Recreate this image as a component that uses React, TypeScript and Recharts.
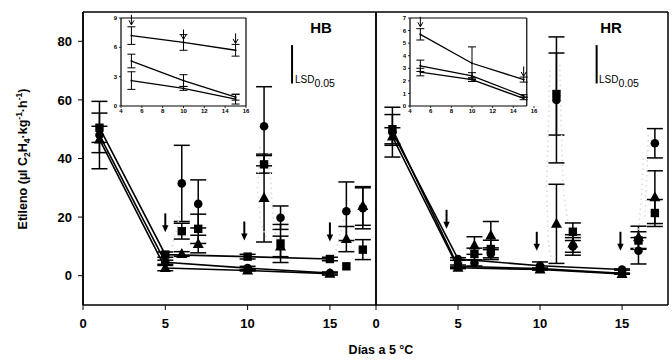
import React from 'react';
import { ComposedChart, Scatter, XAxis, YAxis, ErrorBar, ReferenceLine } from 'recharts';

const FONT = '"Liberation Sans", Arial, sans-serif';

// ---- categories / x values ----
const lineDays = [1, 5, 10, 15];
const postDays = [6, 7, 11, 12, 16, 17];
const insetDays = [5, 10, 15];
const mainXTicks = [0, 5, 10, 15];
const mainYTicks = [0, 20, 40, 60, 80];
const insetXTicks = [4, 6, 8, 10, 12, 14, 16];
const hbInsetYTicks = [0, 3, 6, 9];
const hrInsetYTicks = [0, 1, 2, 3, 4, 5, 6, 7];

// ---- HB panel ----
const hbSquareLine = [50.5, 7.2, 6.5, 5.7];
const hbSquareLineErr = [5, 0.9, 0.8, 0.6];
const hbCircleLine = [48, 4.6, 2.6, 0.9];
const hbCircleLineErr = [11.5, 0.7, 0.6, 0.3];
const hbTriangleLine = [46.5, 2.6, 1.8, 0.7];
const hbTriangleLineErr = [4.5, 0.9, 0.2, 0.5];

const hbCirclePost = [31.5, 24.5, 51, 19.8, 22, 23];
const hbCirclePostErr = [13, 8.2, 13.5, 4, 10, 7];
const hbSquarePost = [15.2, 16, 38, 11, 3.2, 8.9];
const hbSquarePostErr = [2.7, 5, 3, 6.5, 0, 3.4];
const hbTrianglePost = [7.4, 10.8, 26.5, 10, 12.5, 23.8];
const hbTrianglePostErr = [0.8, 3, 15, 3.5, 4.3, 6.6];

const hbArrowX = [5, 9.8, 15];
const hbArrowTip = [14.8, 12, 11.7];
const hbInsetArrowX = [5, 10, 15];
const hbInsetArrowTip = [8.3, 6.8, 6.4];
const hbLsd = 13.1;
const hbLsdX = 12.7;
const hbLsdTop = 78.7;

const hbShadowA = [[10.75, 44], [10.6, 30], [10.8, 18], [11.2, 12]];
const hbShadowB = [[11.3, 42], [11.45, 28], [11.6, 16], [12, 9]];
const hbShadowC = [[5.4, 10], [5.7, 16], [5.9, 22]];
const hbShadowD = [[15.3, 7], [15.6, 14], [15.9, 20]];

// ---- HR panel ----
const hrCircleLine = [49, 5.7, 3.4, 2.1];
const hrCircleLineErr = [8.5, 0.45, 1.3, 0.2];
const hrSquareLine = [50, 3.2, 2.4, 0.8];
const hrSquareLineErr = [5, 0.45, 0.25, 0.1];
const hrTriangleLine = [47.5, 2.7, 2.1, 0.6];
const hrTriangleLineErr = [3, 0.3, 0.15, 0.1];

const hrCirclePost = [4.3, 7.5, 60, 10, 8.5, 45.2];
const hrCirclePostErr = [1, 2, 21.5, 3, 4.5, 5];
const hrSquarePost = [7.4, 9.1, 62, 15, 12, 21.4];
const hrSquarePostErr = [2, 3, 14, 3, 3, 4.6];
const hrTrianglePost = [10.3, 13.7, 17.7, 11, 13.1, 26.8];
const hrTrianglePostErr = [3, 4.8, 13.5, 3, 3.8, 9];

const hrArrowX = [4.3, 9.8, 14.9];
const hrArrowTip = [16, 8.5, 8.5];
const hrInsetArrowX = [5, 15];
const hrInsetArrowTip = [6.3, 2.35];
const hrLsd = 13.1;
const hrLsdX = 13.45;
const hrLsdTop = 78.7;

const hrShadowA = [[10.6, 70], [10.5, 50], [10.4, 30], [10.5, 12], [10.7, 5]];
const hrShadowB = [[11.2, 72], [11.3, 50], [11.4, 30], [11.7, 18]];
const hrShadowC = [[16.3, 40], [16.2, 28], [16.0, 15], [15.6, 6]];
const hrShadowD = [[16.6, 48], [16.5, 33], [16.4, 20]];

// ---- helpers ----
const pts = (xs: number[], ys: number[], es?: number[]) =>
  xs.map((x, i) => ({ x, y: ys[i], e: es ? es[i] : 0 }));
const pairs = (p: number[][]) => p.map(([x, y]) => ({ x, y }));

const CircleShape = (p: any) => <circle cx={p.cx} cy={p.cy} r={4.3} fill="#000" />;
const SquareShape = (p: any) => <rect x={p.cx - 4.2} y={p.cy - 4.2} width={8.4} height={8.4} fill="#000" />;
const TriangleShape = (p: any) => (
  <path d={`M${p.cx},${p.cy - 6} L${p.cx + 5.5},${p.cy + 4} L${p.cx - 5.5},${p.cy + 4} Z`} fill="#000" />
);
const NoShape = () => <g />;
const TinyShape = (p: any) => <circle cx={p.cx} cy={p.cy} r={1} fill="#000" />;
const ArrowShape = (p: any) => (
  <g>
    <line x1={p.cx} y1={p.cy - 19} x2={p.cx} y2={p.cy - 6} stroke="#000" strokeWidth={2} />
    <path d={`M${p.cx - 3.2},${p.cy - 7} L${p.cx + 3.2},${p.cy - 7} L${p.cx},${p.cy} Z`} fill="#000" />
  </g>
);
const OpenArrowShape = (p: any) => (
  <g fill="none" stroke="#000" strokeWidth={1}>
    <line x1={p.cx} y1={p.cy - 10} x2={p.cx} y2={p.cy} />
    <path d={`M${p.cx - 2.5},${p.cy - 4.5} L${p.cx},${p.cy} L${p.cx + 2.5},${p.cy - 4.5}`} />
  </g>
);

const tickStyle = { fontSize: 13, fontWeight: 'bold', fill: '#000', fontFamily: FONT };
const insetTick = { fontSize: 6, fontWeight: 'bold', fill: '#000', fontFamily: FONT };
const shadowLine = { stroke: '#dadada', strokeWidth: 1.5, strokeDasharray: '1.5 3.5' };
const mainLine = { stroke: '#000', strokeWidth: 1.6 };

type PanelProps = {
  width: number;
  marginLeft: number;
  showY: boolean;
  lines: { ys: number[]; es: number[]; shape: any }[];
  posts: { ys: number[]; es: number[]; shape: any }[];
  arrowX: number[];
  arrowTip: number[];
  shadows: number[][][];
  lsd: number;
  lsdX: number;
  lsdTop: number;
};

const XMAX = 17.8;

function Panel(props: PanelProps) {
  const { width, marginLeft, showY } = props;
  return (
    <ComposedChart
      width={width}
      height={360}
      margin={{ top: 12, right: 4, bottom: 25, left: marginLeft }}
    >
      <XAxis
        type="number"
        dataKey="x"
        domain={[0, XMAX]}
        ticks={mainXTicks}
        tick={tickStyle}
        tickSize={5}
        tickMargin={9}
        height={30}
        axisLine={{ stroke: '#000', strokeWidth: 1.5 }}
        tickLine={{ stroke: '#000', strokeWidth: 1 }}
        interval={0}
      />
      <YAxis
        type="number"
        dataKey="y"
        domain={[-10, 90]}
        ticks={mainYTicks}
        tick={tickStyle}
        tickSize={5}
        tickMargin={6}
        width={showY ? 83 : 0}
        hide={!showY}
        axisLine={{ stroke: '#000', strokeWidth: 1.5 }}
        tickLine={{ stroke: '#000', strokeWidth: 1 }}
        interval={0}
      />
      <ReferenceLine y={90} stroke="#000" strokeWidth={1.5} />
      <ReferenceLine x={XMAX} stroke="#000" strokeWidth={1.5} />
      <ReferenceLine x={0} stroke="#000" strokeWidth={1.5} />
      <ReferenceLine
        segment={[
          { x: props.lsdX, y: props.lsdTop },
          { x: props.lsdX, y: props.lsdTop - props.lsd },
        ]}
        stroke="#000"
        strokeWidth={2}
      />
      {props.shadows.map((s, i) => (
        <Scatter
          key={'sh' + i}
          data={pairs(s)}
          shape={NoShape}
          line={shadowLine}
          lineType="joint"
          isAnimationActive={false}
        />
      ))}
      {props.lines.map((l, i) => (
        <Scatter
          key={'ln' + i}
          data={pts(lineDays, l.ys, l.es)}
          shape={l.shape}
          line={mainLine}
          lineType="joint"
          isAnimationActive={false}
        >
          <ErrorBar dataKey="e" direction="y" width={8} stroke="#000" strokeWidth={1.5} isAnimationActive={false} />
        </Scatter>
      ))}
      {props.posts.map((l, i) => (
        <Scatter
          key={'po' + i}
          data={pts(postDays, l.ys, l.es)}
          shape={l.shape}
          isAnimationActive={false}
        >
          <ErrorBar dataKey="e" direction="y" width={8} stroke="#000" strokeWidth={1.5} isAnimationActive={false} />
        </Scatter>
      ))}
      <Scatter data={pts(props.arrowX, props.arrowTip)} shape={ArrowShape} isAnimationActive={false} />
    </ComposedChart>
  );
}

type InsetProps = {
  yMax: number;
  yTicks: number[];
  boxRight: number;
  lines: { ys: number[]; es: number[] }[];
  arrowX: number[];
  arrowTip: number[];
  marginRight: number;
};

function Inset(p: InsetProps) {
  return (
    <ComposedChart width={160} height={125} margin={{ top: 18, right: p.marginRight, bottom: 7, left: 0 }}>
      <XAxis
        type="number"
        dataKey="x"
        domain={[4, 16]}
        ticks={insetXTicks}
        tick={insetTick}
        tickSize={2}
        tickMargin={1}
        height={12}
        axisLine={false}
        tickLine={{ stroke: '#000', strokeWidth: 0.8 }}
        interval={0}
      />
      <YAxis
        type="number"
        dataKey="y"
        domain={[0, p.yMax]}
        ticks={p.yTicks}
        tick={insetTick}
        tickSize={2}
        tickMargin={2}
        width={26}
        axisLine={{ stroke: '#000', strokeWidth: 1.2 }}
        tickLine={{ stroke: '#000', strokeWidth: 0.8 }}
        interval={0}
      />
      <ReferenceLine segment={[{ x: 4, y: 0 }, { x: p.boxRight, y: 0 }]} stroke="#000" strokeWidth={1.2} />
      <ReferenceLine segment={[{ x: 4, y: p.yMax }, { x: p.boxRight, y: p.yMax }]} stroke="#000" strokeWidth={1.2} />
      <ReferenceLine segment={[{ x: p.boxRight, y: 0 }, { x: p.boxRight, y: p.yMax }]} stroke="#000" strokeWidth={1.2} />
      {p.lines.map((l, i) => (
        <Scatter
          key={'il' + i}
          data={pts(insetDays, l.ys, l.es)}
          shape={TinyShape}
          line={{ stroke: '#000', strokeWidth: 1.3 }}
          lineType="joint"
          isAnimationActive={false}
        >
          <ErrorBar dataKey="e" direction="y" width={4} stroke="#000" strokeWidth={1} isAnimationActive={false} />
        </Scatter>
      ))}
      <Scatter data={pts(p.arrowX, p.arrowTip)} shape={OpenArrowShape} isAnimationActive={false} />
    </ComposedChart>
  );
}

export default function App() {
  return (
    <div style={{ position: 'absolute', left: 0, top: 0, width: 672, height: 360, background: '#fff', fontFamily: FONT }}>
      <div style={{ position: 'absolute', left: 0, top: 0 }}>
        <Panel
          width={380}
          marginLeft={0}
          showY={true}
          lines={[
            { ys: hbSquareLine, es: hbSquareLineErr, shape: SquareShape },
            { ys: hbCircleLine, es: hbCircleLineErr, shape: CircleShape },
            { ys: hbTriangleLine, es: hbTriangleLineErr, shape: TriangleShape },
          ]}
          posts={[
            { ys: hbCirclePost, es: hbCirclePostErr, shape: CircleShape },
            { ys: hbSquarePost, es: hbSquarePostErr, shape: SquareShape },
            { ys: hbTrianglePost, es: hbTrianglePostErr, shape: TriangleShape },
          ]}
          arrowX={hbArrowX}
          arrowTip={hbArrowTip}
          shadows={[hbShadowA, hbShadowB, hbShadowC, hbShadowD]}
          lsd={hbLsd}
          lsdX={hbLsdX}
          lsdTop={hbLsdTop}
        />
      </div>
      <div style={{ position: 'absolute', left: 0, top: 0 }}>
        <Panel
          width={672}
          marginLeft={376}
          showY={false}
          lines={[
            { ys: hrCircleLine, es: hrCircleLineErr, shape: CircleShape },
            { ys: hrSquareLine, es: hrSquareLineErr, shape: SquareShape },
            { ys: hrTriangleLine, es: hrTriangleLineErr, shape: TriangleShape },
          ]}
          posts={[
            { ys: hrCirclePost, es: hrCirclePostErr, shape: CircleShape },
            { ys: hrSquarePost, es: hrSquarePostErr, shape: SquareShape },
            { ys: hrTrianglePost, es: hrTrianglePostErr, shape: TriangleShape },
          ]}
          arrowX={hrArrowX}
          arrowTip={hrArrowTip}
          shadows={[hrShadowA, hrShadowB, hrShadowC, hrShadowD]}
          lsd={hrLsd}
          lsdX={hrLsdX}
          lsdTop={hrLsdTop}
        />
      </div>
      <div style={{ position: 'absolute', left: 95, top: 0 }}>
        <Inset
          yMax={9}
          yTicks={hbInsetYTicks}
          boxRight={16}
          marginRight={9}
          lines={[
            { ys: hbSquareLine.slice(1), es: hbSquareLineErr.slice(1) },
            { ys: hbCircleLine.slice(1), es: hbCircleLineErr.slice(1) },
            { ys: hbTriangleLine.slice(1), es: hbTriangleLineErr.slice(1) },
          ]}
          arrowX={hbInsetArrowX}
          arrowTip={hbInsetArrowTip}
        />
      </div>
      <div style={{ position: 'absolute', left: 384, top: 0 }}>
        <Inset
          yMax={7}
          yTicks={hrInsetYTicks}
          boxRight={15.3}
          marginRight={10}
          lines={[
            { ys: hrCircleLine.slice(1), es: hrCircleLineErr.slice(1) },
            { ys: hrSquareLine.slice(1), es: hrSquareLineErr.slice(1) },
            { ys: hrTriangleLine.slice(1), es: hrTriangleLineErr.slice(1) },
          ]}
          arrowX={hrInsetArrowX}
          arrowTip={hrInsetArrowTip}
        />
      </div>
      <svg
        width={672}
        height={360}
        style={{ position: 'absolute', left: 0, top: 0, pointerEvents: 'none' }}
        fontFamily={FONT}
      >
        <text x={321} y={33} textAnchor="middle" fontSize={15} fontWeight="bold" fill="#000">HB</text>
        <text x={611} y={33} textAnchor="middle" fontSize={15} fontWeight="bold" fill="#000">HR</text>
        <text x={295} y={83} fontSize={10} fill="#000">
          LSD<tspan dy={3.5} fontSize={10.5}>0.05</tspan>
        </text>
        <text x={599} y={83} fontSize={10} fill="#000">
          LSD<tspan dy={3.5} fontSize={10.5}>0.05</tspan>
        </text>
        <text x={381} y={354} textAnchor="middle" fontSize={12.5} fontWeight="bold" fill="#000">Días a 5 °C</text>
        <text
          transform="translate(27,159) rotate(-90)"
          textAnchor="middle"
          fontSize={12.5}
          fontWeight="bold"
          fill="#000"
        >
          Etileno (µl C<tspan fontSize={8.5} dy={3}>2</tspan>
          <tspan dy={-3}>H</tspan>
          <tspan fontSize={8.5} dy={3}>4</tspan>
          <tspan dy={-3}>·kg</tspan>
          <tspan fontSize={8.5} dy={-5}>-1</tspan>
          <tspan dy={5}>·h</tspan>
          <tspan fontSize={8.5} dy={-5}>-1</tspan>
          <tspan dy={5}>)</tspan>
        </text>
      </svg>
    </div>
  );
}
